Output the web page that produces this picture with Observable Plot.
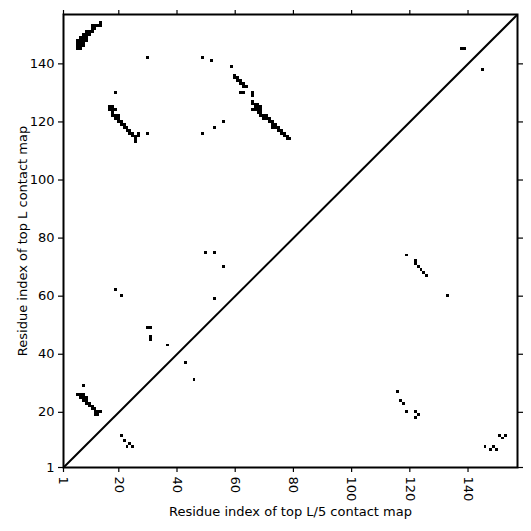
<!DOCTYPE html>
<html>
<head>
<meta charset="utf-8">
<script src="https://cdn.jsdelivr.net/npm/d3@7"></script>
<script src="https://cdn.jsdelivr.net/npm/@observablehq/plot@0.6"></script>
<style>
  html, body { margin: 0; padding: 0; background: #fff; }
</style>
</head>
<body>
<div id="chart"></div>
<script>
// Sequence length (axis extent)
const N = 157;
const tickValues = [1, 20, 40, 60, 80, 100, 120, 140];
const xLabel = "Residue index of top L/5 contact map";
const yLabel = "Residue index of top L contact map";

// Contacts drawn above the diagonal [x, y]
const upperContacts = [
  [14,154],[14,153],[13,153],[12,153],[11,153],[11,152],[12,152],
  [9,151],[10,151],[11,151],[8,150],[9,150],[10,150],
  [7,149],[8,149],[9,149],[6,148],[7,148],[8,148],[9,148],
  [6,147],[7,147],[8,147],[6,146],[7,146],[8,146],[6,145],[7,145],
  [30,142],[49,142],[52,141],[19,130],
  [17,125],[18,125],[17,124],[18,124],[19,124],[18,123],[18,122],[19,122],[20,122],
  [19,121],[20,121],[20,120],[21,120],[21,119],[22,119],[22,118],[23,118],
  [23,117],[24,117],[24,116],[25,116],[25,115],[26,115],[27,115],[27,116],[26,114],[26,113],
  [30,116],[49,116],[53,118],[56,120],
  [59,139],[60,136],[60,135],[61,135],[61,134],[62,134],[62,133],[63,133],[63,132],[64,132],
  [62,130],[63,130],[66,130],[66,129],
  [66,127],[66,126],[67,126],[67,125],[68,126],[68,125],[69,125],[66,124],[67,124],[68,124],[69,124],
  [68,123],[69,123],[69,122],[70,122],[71,122],[70,121],[71,121],[72,121],
  [72,120],[73,120],[73,119],[74,119],[73,118],[74,118],[75,118],
  [75,117],[76,117],[76,116],[77,116],[77,115],[78,115],[78,114],[79,114],
  [138,145],[139,145],
  [8,29],[6,26],[7,26],[8,26],[7,25],[8,25],[9,25],[8,24],[9,24],[9,23],[10,23],
  [10,22],[11,22],[11,21],[12,21],[12,20],[13,20],[14,20],[12,19],[13,19],
  [19,62],[21,60],[30,49],[31,49],[31,46],[31,45],[37,43],[53,59],
  [50,75],[53,75],[56,70]
];

// Contacts drawn below the diagonal [x, y]
const lowerContacts = [
  [145,138],
  [43,37],[46,31],
  [21,12],[22,10],[23,8],[24,9],[25,8],
  [119,74],[122,72],[122,71],[123,70],[124,69],[125,68],[126,67],[133,60],
  [116,27],[117,24],[118,23],[119,20],[122,20],[123,19],[122,18],
  [146,8],[148,7],[149,8],[150,7],[151,12],[152,11],[153,12]
];

const cells = [
  ...upperContacts.map(([x, y]) => ({x, y, part: "upper"})),
  ...lowerContacts.map(([x, y]) => ({x, y, part: "lower"}))
];

const chart = Plot.plot({
  width: 531,
  height: 531,
  marginLeft: 63,
  marginRight: 14,
  marginTop: 14,
  marginBottom: 64,
  style: {fontFamily: "DejaVu Sans, sans-serif", fontSize: "13px", color: "#000", background: "#fff"},
  x: {domain: [1, N]},
  y: {domain: [1, N]},
  marks: [
    Plot.rect(cells, {
      x1: d => d.x - 0.5, x2: d => d.x + 0.5,
      y1: d => d.y - 0.5, y2: d => d.y + 0.5,
      fill: "black", shapeRendering: "crispEdges"
    }),
    Plot.link([{a: 1, b: N}], {x1: d => d.a, y1: d => d.a, x2: d => d.b, y2: d => d.b, stroke: "black", strokeWidth: 2}),
    Plot.frame({stroke: "black", strokeWidth: 2}),
    Plot.axisX({anchor: "bottom", ticks: tickValues, tickSize: 5, tickRotate: 90, tickPadding: 4,
      label: xLabel, labelAnchor: "center", labelArrow: "none", labelOffset: 48, strokeWidth: 1.2, fontSize: 13}),
    Plot.axisX({anchor: "top", ticks: tickValues, tickSize: 5, tickFormat: () => "", label: null, strokeWidth: 1.2}),
    Plot.axisY({anchor: "left", ticks: tickValues, tickSize: 5, tickPadding: 4,
      label: yLabel, labelAnchor: "center", labelArrow: "none", labelOffset: 46, strokeWidth: 1.2, fontSize: 13}),
    Plot.axisY({anchor: "right", ticks: tickValues, tickSize: 5, tickFormat: () => "", label: null, strokeWidth: 1.2})
  ]
});
document.getElementById("chart").appendChild(chart);
</script>
</body>
</html>
